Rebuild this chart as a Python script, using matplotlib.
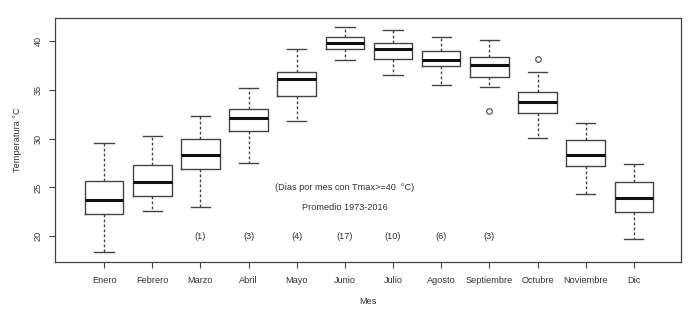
import matplotlib.pyplot as plt

meses = ["Enero", "Febrero", "Marzo", "Abril", "Mayo", "Junio", "Julio",
         "Agosto", "Septiembre", "Octubre", "Noviembre", "Dic"]

# estadisticos de cada caja
bigote_inf = [18.36, 22.55, 22.96, 27.53, 31.82, 37.99, 36.53, 35.50, 35.26, 30.02, 24.29, 19.72]
q1 = [22.32, 24.16, 26.88, 30.76, 34.38, 39.11, 38.09, 37.44, 36.32, 32.64, 27.15, 22.45]
mediana = [23.75, 25.52, 28.31, 32.06, 36.04, 39.80, 39.11, 38.06, 37.48, 33.77, 28.31, 23.96]
q3 = [25.69, 27.33, 29.98, 33.01, 36.83, 40.34, 39.75, 38.98, 38.32, 34.79, 29.81, 25.55]
bigote_sup = [29.58, 30.29, 32.30, 35.20, 39.14, 41.43, 41.05, 40.34, 40.06, 36.76, 31.55, 27.39]
atipicos = [[], [], [], [], [], [], [], [], [32.77], [38.09], [], []]

# dias por mes con Tmax >= 40 C
dias_pos = [3, 4, 5, 6, 7, 8, 9]
dias = [1, 3, 4, 17, 10, 6, 3]

plt.rcParams['font.family'] = ['Liberation Sans', 'DejaVu Sans']
gris = '#444444'
fs = 6.6

stats = []
for i in range(len(meses)):
    stats.append({
        'whislo': bigote_inf[i], 'q1': q1[i], 'med': mediana[i],
        'q3': q3[i], 'whishi': bigote_sup[i], 'fliers': atipicos[i],
    })

fig = plt.figure(figsize=(6.95, 3.2), dpi=100)
ax = fig.add_axes([55 / 695, 1 - 262 / 320, (681 - 55) / 695, (262 - 18) / 320])

pos = list(range(1, len(meses) + 1))
ax.bxp(stats, positions=pos, widths=0.8, capwidths=0.4,
       boxprops=dict(color=gris, linewidth=1.0),
       whiskerprops=dict(color=gris, linewidth=1.0, linestyle=(0, (2, 1.6))),
       capprops=dict(color=gris, linewidth=1.0),
       medianprops=dict(color='#111111', linewidth=2.2),
       flierprops=dict(marker='o', markersize=4, markerfacecolor='none',
                       markeredgecolor=gris, markeredgewidth=0.8))

ax.set_xlim(-0.02, 12.98)
ax.set_ylim(17.38, 42.32)

ax.set_xticks(pos)
ax.set_xticklabels(meses)
ax.set_yticks([20, 25, 30, 35, 40])
ax.set_yticklabels(['20', '25', '30', '35', '40'], rotation=90, va='center')
ax.tick_params(colors=gris, labelcolor='#333333', labelsize=fs, length=4, width=0.8)
ax.tick_params(axis='x', pad=6)
ax.tick_params(axis='y', pad=5)
for s in ax.spines.values():
    s.set_color(gris)
    s.set_linewidth(0.9)

ax.set_xlabel("Mes", fontsize=fs, color='#333333', labelpad=9)
ax.set_ylabel("Temperatura °C", fontsize=fs, color='#333333', labelpad=8)

ax.text(6, 25.0, "(Dias por mes con Tmax>=40  °C)", ha='center', va='center',
        fontsize=fs, color='#333333')
ax.text(6, 22.9, "Promedio 1973-2016", ha='center', va='center',
        fontsize=fs, color='#333333')
for p, d in zip(dias_pos, dias):
    ax.text(p, 20, "(%d)" % d, ha='center', va='center', fontsize=fs, color='#333333')

fig.savefig('out.png', dpi=100, facecolor='white')
